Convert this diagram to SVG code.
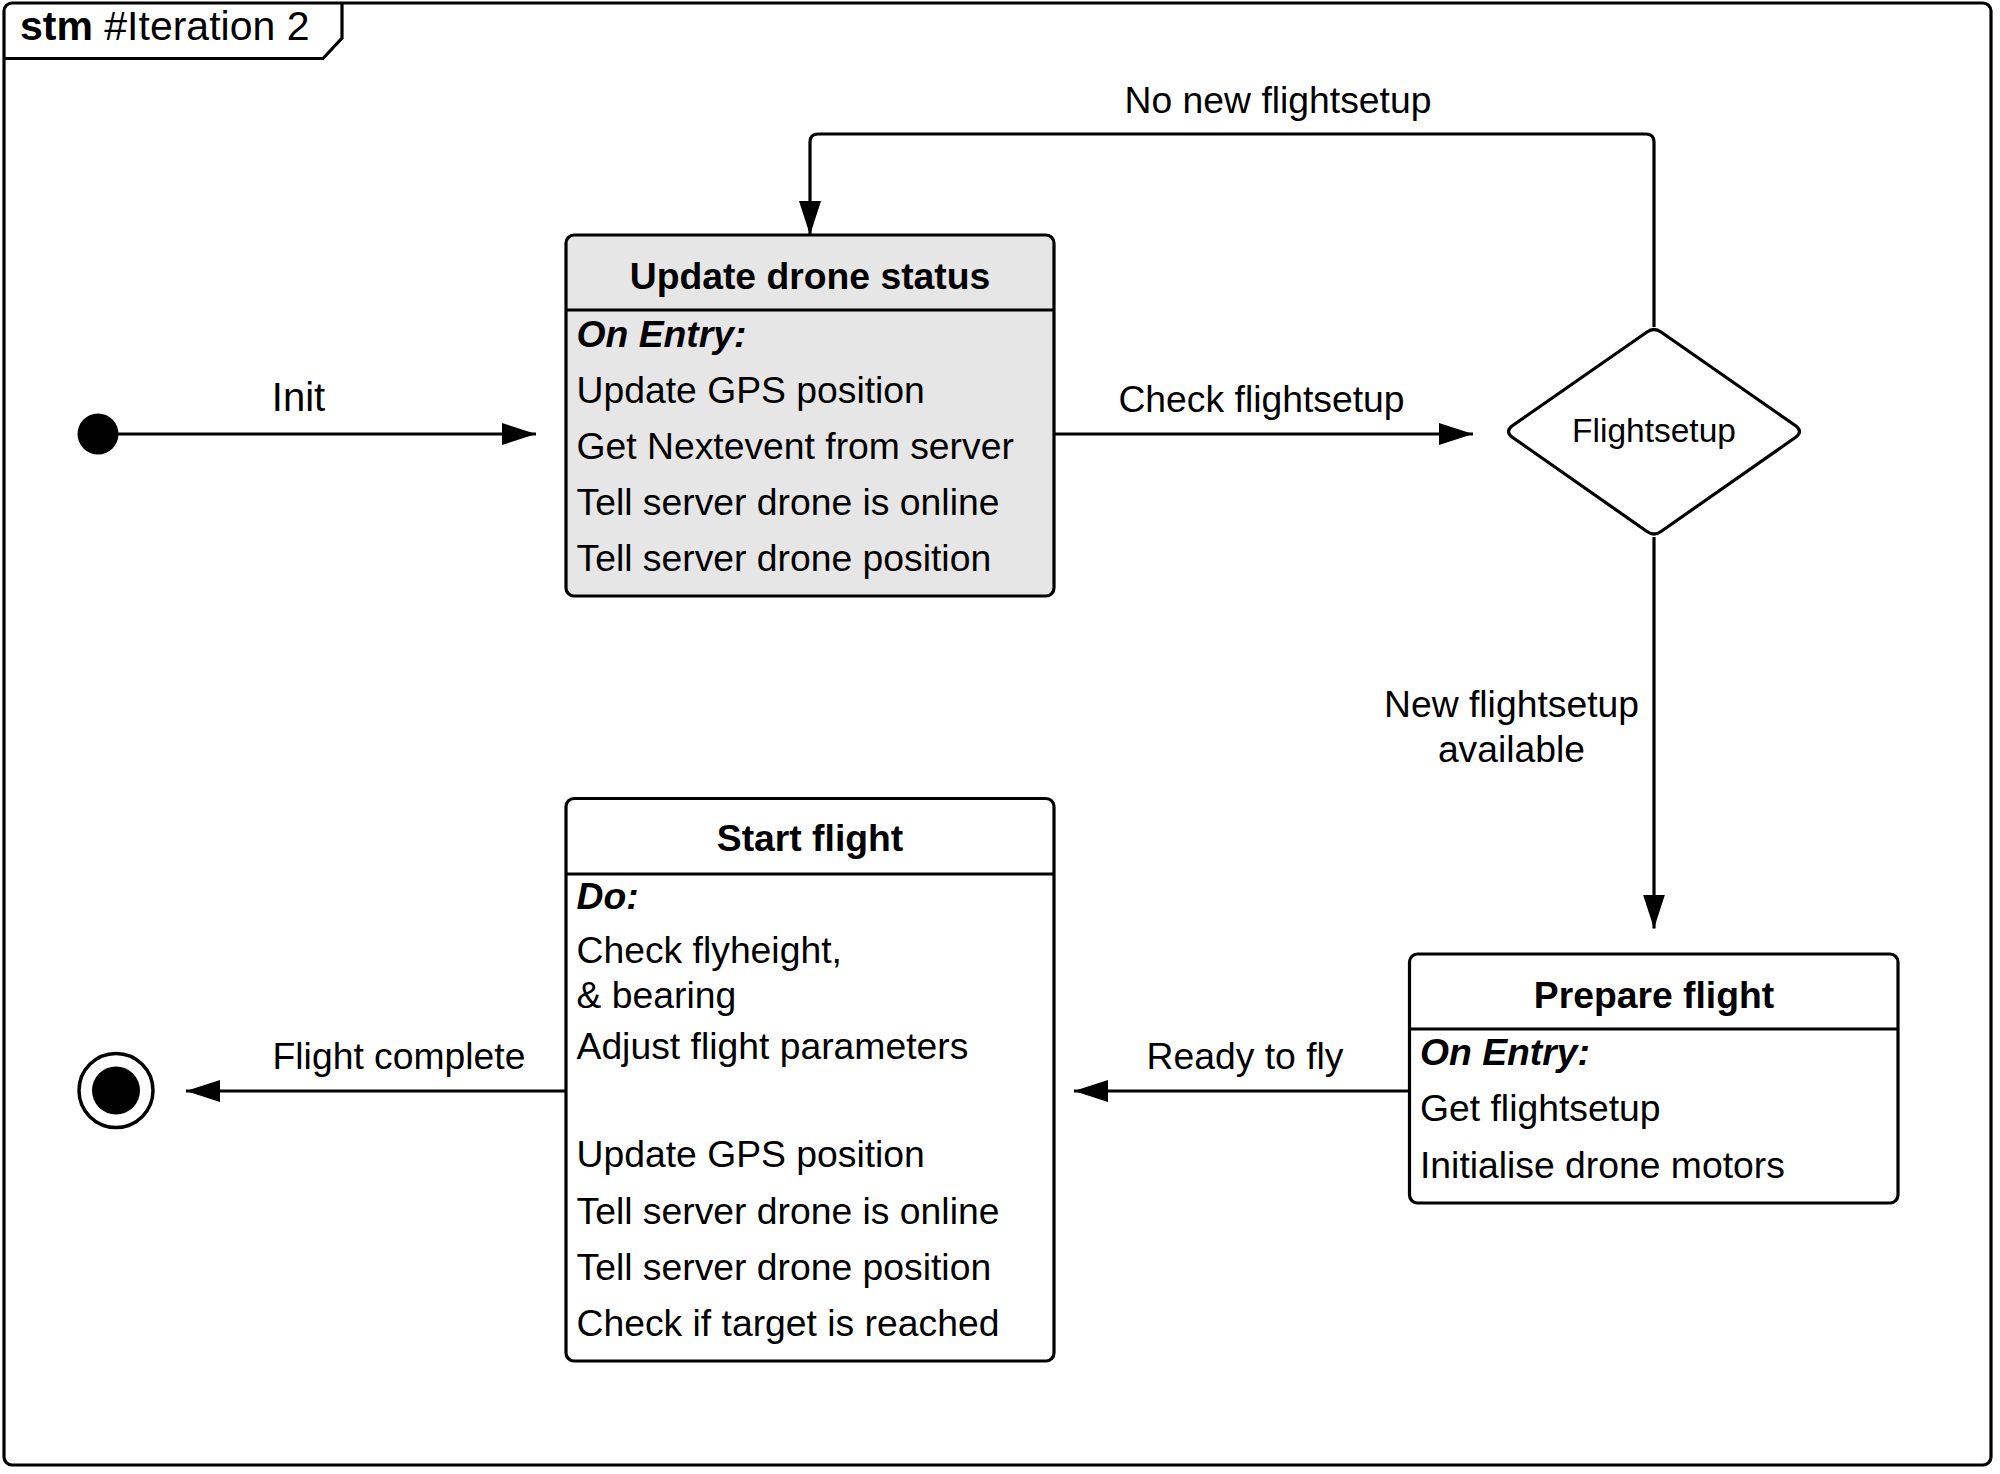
<svg xmlns="http://www.w3.org/2000/svg" width="2000" height="1474" viewBox="0 0 2000 1474">
<style>
.t{font-family:"Liberation Sans",Arial,sans-serif;font-size:37.3px;fill:#000}
.b{font-weight:bold}
.bi{font-weight:bold;font-style:italic}
.c{text-anchor:middle}
.box{fill:#fff;stroke:#000;stroke-width:3.2}
.ln{fill:none;stroke:#000;stroke-width:3.2}
</style>
<defs>
<marker id="ah" markerUnits="userSpaceOnUse" markerWidth="34" markerHeight="24" refX="34" refY="11" orient="auto">
<path d="M0,0 L34,11 L0,22 z" fill="#000"/>
</marker>
</defs>
<rect width="2000" height="1474" fill="#fff"/>
<g id="frame">
<rect x="4" y="3" width="1987" height="1462" rx="8" class="box" fill="none"/>
<path d="M4,58.5 L323,58.5 L342,38 L342,3" class="ln"/>
<text x="20" y="39.5" class="t" style="font-size:41px"><tspan class="b">stm</tspan> #Iteration 2</text>
</g>
<g id="connectors">
<path d="M98,434 L536,434" class="ln" marker-end="url(#ah)"/>
<path d="M1052,434 L1473,434" class="ln" marker-end="url(#ah)"/>
<path d="M1654,327 L1654,142 Q1654,134 1646,134 L818,134 Q810,134 810,142 L810,235" class="ln" marker-end="url(#ah)"/>
<path d="M1654,537 L1654,928.5" class="ln" marker-end="url(#ah)"/>
<path d="M1415,1091 L1074,1091" class="ln" marker-end="url(#ah)"/>
<path d="M566,1091 L186,1091" class="ln" marker-end="url(#ah)"/>
<text x="298.5" y="411" class="t c" style="font-size:40px">Init</text>
<text x="1261.5" y="412" class="t c">Check flightsetup</text>
<text x="1278" y="112.5" class="t c">No new flightsetup</text>
<text x="1511.5" y="717" class="t c">New flightsetup</text>
<text x="1511.5" y="762" class="t c">available</text>
<text x="1245" y="1069" class="t c">Ready to fly</text>
<text x="399" y="1069" class="t c">Flight complete</text>
</g>
<g id="initial">
<circle cx="98" cy="434" r="20.5" fill="#000"/>
</g>
<g id="update-drone-status">
<rect x="566" y="235" width="488" height="361" rx="8" class="box" style="fill:#e6e6e6"/>
<line x1="566" y1="310" x2="1054" y2="310" class="ln"/>
<text x="810" y="288.5" class="t b c">Update drone status</text>
<text x="576.5" y="347" class="t bi">On Entry:</text>
<text x="576.5" y="403" class="t">Update GPS position</text>
<text x="576.5" y="459" class="t">Get Nextevent from server</text>
<text x="576.5" y="515" class="t">Tell server drone is online</text>
<text x="576.5" y="571" class="t">Tell server drone position</text>
</g>
<g id="flightsetup-decision">
<path d="M1647,332 Q1654,327 1661,332 L1796,426 Q1803,431.5 1796,437 L1661,531.5 Q1654,536.5 1647,531.5 L1512,437 Q1505,431.5 1512,426 Z" class="box"/>
<text x="1654" y="441.5" class="t c" style="font-size:33.5px">Flightsetup</text>
</g>
<g id="prepare-flight">
<rect x="1409.5" y="954" width="488.5" height="249" rx="8" class="box"/>
<line x1="1409.5" y1="1029" x2="1898" y2="1029" class="ln"/>
<text x="1654" y="1008" class="t b c">Prepare flight</text>
<text x="1420" y="1065" class="t bi">On Entry:</text>
<text x="1420" y="1121" class="t">Get flightsetup</text>
<text x="1420" y="1177.5" class="t">Initialise drone motors</text>
</g>
<g id="start-flight">
<rect x="566" y="798.5" width="488" height="562.5" rx="8" class="box"/>
<line x1="566" y1="874" x2="1054" y2="874" class="ln"/>
<text x="810" y="851" class="t b c">Start flight</text>
<text x="576.5" y="908.5" class="t bi">Do:</text>
<text x="576.5" y="963" class="t">Check flyheight,</text>
<text x="576.5" y="1008" class="t">&amp; bearing</text>
<text x="576.5" y="1059" class="t">Adjust flight parameters</text>
<text x="576.5" y="1167" class="t">Update GPS position</text>
<text x="576.5" y="1223.5" class="t">Tell server drone is online</text>
<text x="576.5" y="1279.5" class="t">Tell server drone position</text>
<text x="576.5" y="1335.5" class="t">Check if target is reached</text>
</g>
<g id="final">
<circle cx="116" cy="1090.5" r="37" fill="#fff" stroke="#000" stroke-width="3.5"/>
<circle cx="116" cy="1090.5" r="24" fill="#000"/>
</g>
</svg>
